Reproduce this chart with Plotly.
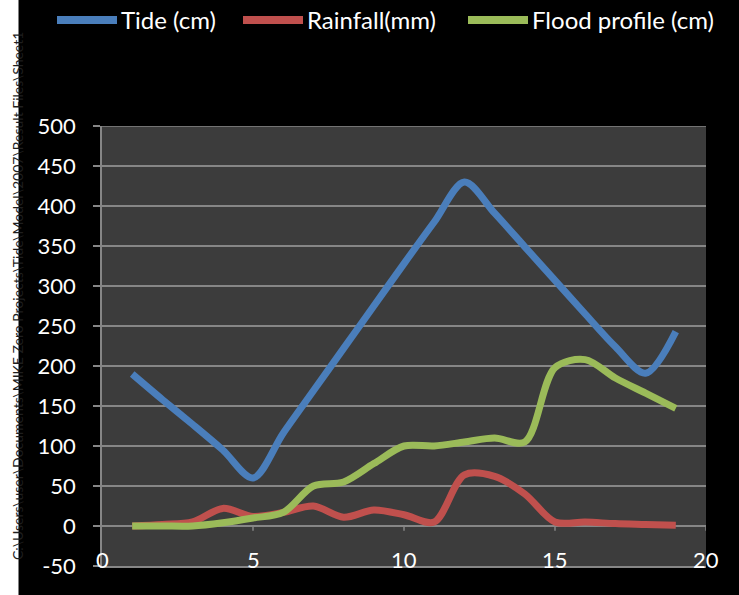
import plotly.graph_objects as go

# Time step (hour index) and the three measured series
steps = list(range(1, 20))
tide_cm = [190, 158, 127, 95, 60, 116, 169, 222, 275, 328, 380, 430, 391, 349, 307, 265, 224, 191, 243]
rainfall_mm = [0, 2, 5, 22, 12, 17, 25, 11, 20, 14, 5, 64, 62, 40, 5, 5, 3, 2, 1]
flood_cm = [0, 0, 0, 4, 10, 17, 50, 55, 78, 100, 100, 105, 110, 105, 198, 208, 185, 166, 147]

x_ticks = [0, 5, 10, 15, 20]
y_ticks = list(range(-50, 501, 50))

series_names = ["Tide (cm)", "Rainfall(mm)", "Flood profile (cm)"]
series_values = [tide_cm, rainfall_mm, flood_cm]
series_colors = ["#4a7ebb", "#c0504d", "#9bbb59"]

FONT = "Lato"
GRID = "#868686"
PLOT_BG = "#3c3c3c"

# plot-area geometry in pixels, used to place decorations in paper units
L, R, T, B = 102, 706, 126, 566
W, H = R - L, B - T


def px_x(x):
    return (x - L) / W


def px_y(y):
    return (B - y) / H


fig = go.Figure()
for name, vals, color in zip(series_names, series_values, series_colors):
    fig.add_trace(go.Scatter(
        x=steps, y=vals, name=name, mode="lines", showlegend=False,
        line=dict(color=color, width=7, shape="spline", smoothing=0.9),
    ))

# legend row across the top: swatch line followed by its label
legend_swatch_left = [57, 243, 468]
for name, color, x0 in zip(series_names, series_colors, legend_swatch_left):
    fig.add_shape(type="line", xref="paper", yref="paper",
                  x0=px_x(x0), x1=px_x(x0 + 60), y0=px_y(20), y1=px_y(20),
                  line=dict(color=color, width=8))
    fig.add_annotation(text=name, xref="paper", yref="paper",
                       x=px_x(x0 + 62), y=px_y(20), xanchor="left", yanchor="middle",
                       showarrow=False, font=dict(family=FONT, size=24, color="white"))

# x tick labels sit along the bottom edge of the plot
for t in x_ticks:
    fig.add_annotation(text=str(t), xref="x", yref="y", x=t, y=-50, yshift=7,
                       xanchor="center", yanchor="middle", showarrow=False,
                       font=dict(family=FONT, size=22, color="white"))

# short tick marks hanging from the zero line
for t in x_ticks[1:]:
    fig.add_shape(type="line", xref="x", yref="y", x0=t, x1=t, y0=0, y1=-6,
                  line=dict(color=GRID, width=1.5), layer="below")

# top gridline at the upper range edge
fig.add_shape(type="line", xref="paper", yref="y", x0=0, x1=1, y0=500, y1=500,
              line=dict(color=GRID, width=1.5), layer="below")

# white strip with the source-file path along the left edge
fig.add_shape(type="rect", xref="paper", yref="paper",
              x0=px_x(-2), x1=px_x(18), y0=px_y(600), y1=px_y(-5),
              fillcolor="#ffffff", opacity=1, line=dict(color="#ffffff", width=1),
              layer="above")
fig.add_annotation(
    text="C:\\Users\\user\\Documents\\MIKE Zero Projects\\Tide\\Model\\2007\\Result Files\\Sheet1",
    xref="paper", yref="paper", x=px_x(17), y=px_y(296),
    xanchor="center", yanchor="middle",
    textangle=-90, showarrow=False, font=dict(family=FONT, size=14, color="#1e1e1e"),
)

fig.update_layout(
    width=739, height=595,
    margin=dict(l=L, r=739 - R, t=T, b=595 - B),
    paper_bgcolor="black", plot_bgcolor=PLOT_BG,
    font=dict(family=FONT, color="white", size=22),
    showlegend=False,
    xaxis=dict(
        range=[0, 20], tickvals=x_ticks, showticklabels=False,
        showgrid=False, zeroline=False, ticks="",
        showline=True, linecolor=GRID, linewidth=1.5,
    ),
    yaxis=dict(
        range=[-50, 500], tickvals=y_ticks, ticktext=[str(v) for v in y_ticks],
        showgrid=True, gridcolor=GRID, gridwidth=1.5, zeroline=False,
        showline=True, linecolor=GRID, linewidth=1.5,
        ticks="outside", ticklen=7, tickcolor=GRID, tickwidth=1.5,
        ticklabelstandoff=13,
        tickfont=dict(family=FONT, size=22, color="white"),
    ),
)

fig.write_html("out.html")
